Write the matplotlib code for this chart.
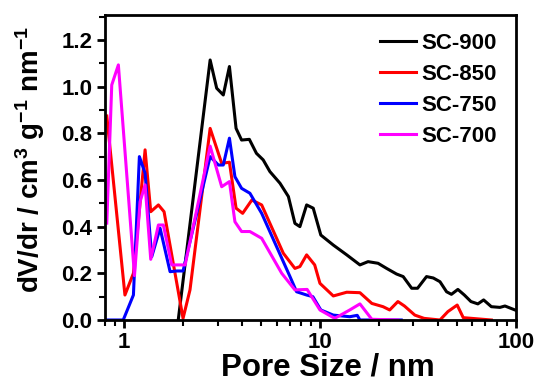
import numpy as np
import matplotlib
matplotlib.use("Agg")
import matplotlib.pyplot as plt
from matplotlib.ticker import MultipleLocator, LogLocator, NullFormatter

plt.rcParams['font.family'] = ['Liberation Sans', 'DejaVu Sans']
plt.rcParams['font.weight'] = 'bold'
plt.rcParams['mathtext.fontset'] = 'custom'
plt.rcParams['mathtext.rm'] = 'Liberation Sans:bold'
plt.rcParams['mathtext.it'] = 'Liberation Sans:bold'
plt.rcParams['mathtext.bf'] = 'Liberation Sans:bold'
plt.rcParams['mathtext.default'] = 'rm'

# pore size (nm) and dV/dr
x900 = [1.89, 2.75, 2.97, 3.21, 3.45, 3.73, 3.98, 4.36, 4.74, 5.13, 5.55, 6.25,
        6.9, 7.45, 7.9, 8.55, 9.24, 10.1, 11.7, 13.7, 16.0, 17.6, 19.8, 21.9,
        24.6, 26.6, 29.4, 31.5, 35.0, 37.9, 41.0, 44.3, 46.9, 50.6, 54.6, 59.0,
        64.0, 68.5, 75.0, 83.0, 88.0, 99.0]
y900 = [0.0, 1.114, 0.993, 0.964, 1.086, 0.821, 0.771, 0.774, 0.714, 0.686, 0.636, 0.586,
        0.529, 0.414, 0.40, 0.493, 0.479, 0.364, 0.321, 0.279, 0.236, 0.25, 0.243, 0.221,
        0.197, 0.186, 0.136, 0.136, 0.186, 0.18, 0.164, 0.121, 0.11, 0.131, 0.107, 0.079,
        0.069, 0.086, 0.057, 0.054, 0.06, 0.043]

x850 = [0.816, 1.01, 1.116, 1.28, 1.368, 1.497, 1.6, 2.0, 2.17, 2.75, 3.15, 3.45,
        3.73, 4.03, 4.49, 5.04, 6.5, 7.45, 7.9, 8.55, 9.4, 10.0, 11.7, 13.7, 16.0,
        18.4, 21.0, 22.7, 25.0, 27.0, 30.5, 34.0, 41.0, 45.0, 50.2, 53.9, 75.0]
y850 = [0.874, 0.107, 0.20, 0.729, 0.464, 0.493, 0.464, 0.007, 0.129, 0.821, 0.671, 0.676,
        0.479, 0.457, 0.514, 0.493, 0.286, 0.221, 0.229, 0.279, 0.236, 0.157, 0.103, 0.119, 0.117,
        0.071, 0.057, 0.043, 0.079, 0.06, 0.021, 0.007, 0.0, 0.036, 0.064, 0.01, 0.0]

x750 = [0.816, 0.99, 1.116, 1.197, 1.28, 1.384, 1.527, 1.717, 1.857, 2.0, 2.75, 3.03,
        3.21, 3.45, 3.68, 3.98, 4.39, 5.04, 7.03, 7.6, 8.55, 9.2, 10.1, 11.7, 14.2,
        15.5, 16.0, 26.0]
y750 = [0.0, 0.0, 0.107, 0.70, 0.629, 0.271, 0.393, 0.207, 0.21, 0.21, 0.70, 0.664,
        0.664, 0.779, 0.614, 0.564, 0.543, 0.457, 0.186, 0.121, 0.107, 0.10, 0.043, 0.021, 0.014,
        0.02, 0.0, 0.0]

x700 = [0.816, 0.865, 0.935, 1.13, 1.207, 1.28, 1.368, 1.497, 1.587, 1.75, 2.05, 2.75,
        3.15, 3.45, 3.68, 3.98, 4.39, 5.04, 6.38, 7.45, 8.6, 10.0, 11.9, 14.2, 16.0,
        18.4, 25.0]
y700 = [0.415, 1.007, 1.093, 0.19, 0.507, 0.579, 0.26, 0.407, 0.407, 0.236, 0.236, 0.745,
        0.571, 0.593, 0.421, 0.379, 0.379, 0.35, 0.20, 0.129, 0.131, 0.043, 0.007, 0.043, 0.069,
        0.003, 0.0]

series = [(x900, y900, 'SC-900', 'black'),
          (x850, y850, 'SC-850', '#ff0000'),
          (x750, y750, 'SC-750', '#0000ff'),
          (x700, y700, 'SC-700', '#ff00ff')]

fig = plt.figure(figsize=(5.39, 3.83), dpi=100)
ax = fig.add_axes([0.195, 0.1645, 0.762, 0.7965])

for xs, ys, lab, col in series:
    ax.plot(xs, ys, '-', color=col, lw=2.2, label=lab)

ax.set_xscale('log')
ax.set_xlim(0.8, 100)
ax.set_ylim(0, 1.307)
ax.yaxis.set_major_locator(MultipleLocator(0.2))
ax.yaxis.set_minor_locator(MultipleLocator(0.1))
ax.xaxis.set_minor_locator(LogLocator(base=10, subs=np.arange(2, 10)))
ax.xaxis.set_minor_formatter(NullFormatter())
ax.set_xticks([1, 10, 100])
ax.set_xticklabels(['1', '10', '100'])
ax.set_yticks([0.0, 0.2, 0.4, 0.6, 0.8, 1.0, 1.2])
ax.set_yticklabels(['0.0', '0.2', '0.4', '0.6', '0.8', '1.0', '1.2'])

for s in ax.spines.values():
    s.set_linewidth(2.0)
ax.tick_params(which='major', direction='out', length=6, width=2, labelsize=16,
               pad=3, top=False, right=False)
ax.tick_params(which='minor', direction='out', length=4, width=1.5,
               top=False, right=False)

ax.set_xlabel('Pore Size / nm', fontsize=22.5, fontweight='bold')
ax.xaxis.set_label_coords(0.543, -0.105, transform=ax.transAxes)
ax.xaxis.label.set_va('top')
ax.set_ylabel(r'dV/dr / cm$^{3}$ g$^{-1}$ nm$^{-1}$', fontsize=20,
              fontweight='bold')
ax.yaxis.set_label_coords(-0.142, 0.525, transform=ax.transAxes)

ax.legend(loc='upper right', bbox_to_anchor=(0.976, 0.97), frameon=False,
          handlelength=1.6, handletextpad=0.25, labelspacing=0.45,
          borderaxespad=0.0, prop={'size': 16, 'weight': 'bold'})

fig.savefig('out.png', dpi=100)
